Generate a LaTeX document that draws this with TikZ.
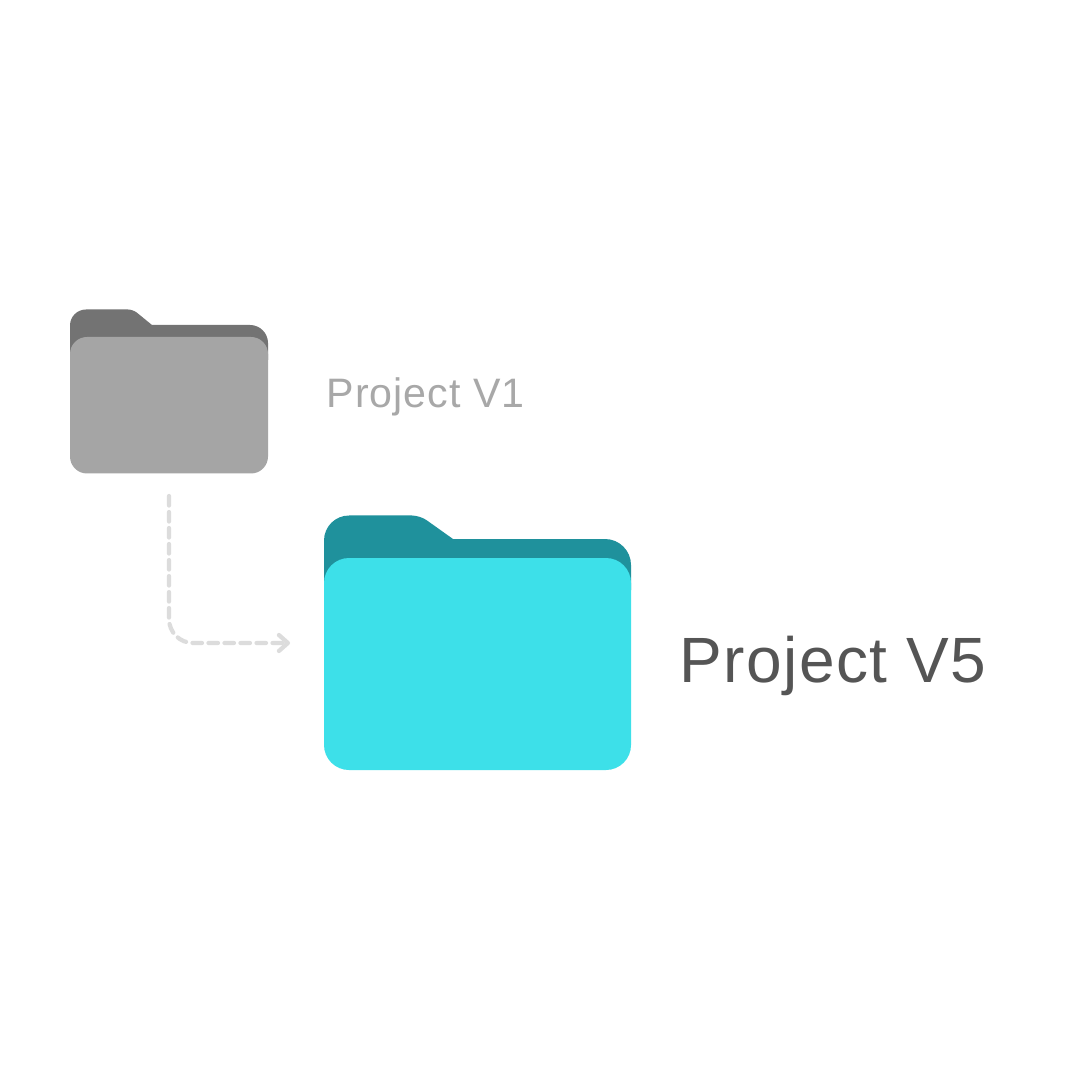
\documentclass[tikz,border=0pt]{standalone}
\usepackage{fontspec}
\setmainfont{Liberation Sans}
\usepackage{xcolor}
\usetikzlibrary{arrows.meta}
\definecolor{cTabGray}{HTML}{737373}
\definecolor{cBodyGray}{HTML}{A5A5A5}
\definecolor{cTabTeal}{HTML}{1F919C}
\definecolor{cBodyCyan}{HTML}{3DE0E9}
\definecolor{cArrow}{HTML}{DCDCDC}
\definecolor{cTextL}{HTML}{A8A8A8}
\definecolor{cTextD}{HTML}{555555}
\begin{document}
\begin{tikzpicture}[x=0.01cm, y=-0.01cm,
    label v1/.style={anchor=base west, inner sep=0pt, text=cTextL, font=\fontsize{11.7}{14}\selectfont\addfontfeature{LetterSpace=2.5}},
    label v5/.style={anchor=base west, inner sep=0pt, text=cTextD, font=\fontsize{18.2}{22}\selectfont\addfontfeature{LetterSpace=2.2}},
    flow/.style={cArrow, line width=0.042cm, line cap=round, dash pattern=on 0.095cm off 0.065cm, rounded corners=0.24cm}]
    \useasboundingbox (0,0) rectangle (1080,1080);
    \fill[white] (0,0) rectangle (1080,1080);
    % small folder
    \fill[cTabGray]
      (70,360) [rounded corners=0.16cm] -- (70,309.5) [rounded corners=0.05cm] -- (133,309.5) [sharp corners] -- (152,325)
      [rounded corners=0.18cm] -- (268,325) [sharp corners] -- (268,360) -- cycle;
    \fill[cBodyGray, rounded corners=0.17cm] (70,337) rectangle (268,473.5);
    % big folder
    \fill[cTabTeal]
      (324,590) [rounded corners=0.25cm] -- (324,515.5) [rounded corners=0.08cm] -- (420,515.5) [sharp corners] -- (453,539)
      [rounded corners=0.26cm] -- (631,539) [sharp corners] -- (631,590) -- cycle;
    \fill[cBodyCyan, rounded corners=0.25cm] (324,558) rectangle (631,770);
    % labels
    \node[label v1] (v1) at (326,408) {Project V1};
    \node[label v5] (v5) at (679,682) {Project V5};
    % dashed link
    \coordinate (v1out) at (169,496);
    \coordinate (v5in) at (290,643);
    \draw[flow, -{Straight Barb[length=0.09cm, width=0.16cm, round]}] (v1out) |- (v5in);
\end{tikzpicture}
\end{document}
